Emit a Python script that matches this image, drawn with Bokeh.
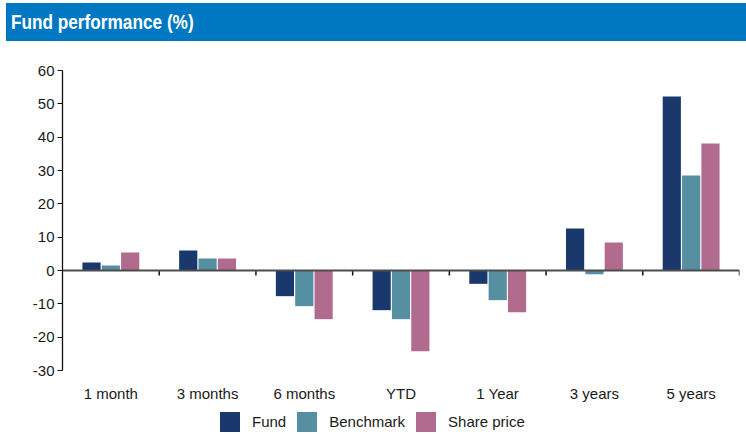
from bokeh.plotting import figure
from bokeh.models import (FactorRange, Span, Legend, LegendItem, Div,
                          FixedTicker, Range1d, ColumnDataSource)
from bokeh.transform import dodge
from bokeh.layouts import column
from bokeh.embed import file_html
from bokeh.resources import INLINE
from bokeh.core.properties import value

# ---- data ----
title_text = "Fund performance (%)"
categories = ["1 month", "3 months", "6 months", "YTD", "1 Year", "3 years", "5 years"]
fund = [2.4, 6.0, -7.7, -11.9, -4.0, 12.6, 52.2]
benchmark = [1.5, 3.6, -10.7, -14.6, -8.9, -1.1, 28.5]
share_price = [5.4, 3.6, -14.6, -24.2, -12.5, 8.4, 38.1]
series_names = ["Fund", "Benchmark", "Share price"]
y_ticks = [-30, -20, -10, 0, 10, 20, 30, 40, 50, 60]

colors = ["#1A386C", "#568EA2", "#B06B8E"]
FONT = "Liberation Sans"
TEXT_COLOR = "#1A1A1A"

W = 746
TITLE_H = 41
FIG_H = 434 - TITLE_H
TOP = 29                 # border above the y axis top
AXIS_PX = 300            # pixel height of the -30..60 axis
Y_MIN, Y_MAX = y_ticks[0], y_ticks[-1]
px_per_unit = AXIS_PX / (Y_MAX - Y_MIN)
frame_h = FIG_H - TOP
y_start = Y_MAX - frame_h / px_per_unit   # frame extends below the axis for labels/legend
label_y = Y_MIN - 23 / px_per_unit         # category label baseline, below axis end

# ---- title bar ----
title_html = (
    '<div style="margin:3px 0 0 6px;width:740px;height:38px;background:#0078C1;'
    'overflow:hidden;white-space:nowrap;">'
    '<span style="display:inline-block;transform:scaleX(0.82);transform-origin:0 50%;'
    'color:#ffffff;font-family:\'Liberation Sans\',Arial,sans-serif;font-weight:bold;'
    'font-size:21px;line-height:38px;padding-left:6px;">'
    + title_text + '</span></div>'
)
title_div = Div(text=title_html, width=W, height=TITLE_H, margin=0)

# ---- main chart ----
src = ColumnDataSource(dict(cat=categories, fund=fund, bench=benchmark, share=share_price,
                            ly=[label_y] * len(categories)))

p = figure(width=W, height=FIG_H, x_range=FactorRange(*categories, range_padding=0),
           y_range=Range1d(y_start, Y_MAX), toolbar_location=None, output_backend="svg",
           x_axis_location=None,
           min_border_left=62, min_border_right=7, min_border_top=TOP,
           min_border_bottom=0)
p.grid.visible = False
p.outline_line_color = None

bw = 0.188
off = 0.2
r1 = p.vbar(x=dodge("cat", -off, range=p.x_range), top="fund", width=bw, source=src,
            fill_color=colors[0], line_color=None)
r2 = p.vbar(x=dodge("cat", 0, range=p.x_range), top="bench", width=bw, source=src,
            fill_color=colors[1], line_color=None)
r3 = p.vbar(x=dodge("cat", off, range=p.x_range), top="share", width=bw, source=src,
            fill_color=colors[2], line_color=None)

# boundary ticks on the zero line
bx = list(range(1, len(categories) + 1))
p.segment(x0=bx, x1=bx, y0=[0] * len(bx), y1=[-5 / px_per_unit] * len(bx),
          line_color="#111111", line_width=1.5)

p.add_layout(Span(location=0, dimension="width", line_color="#4D4D4D", line_width=2))

# category labels
p.text(x="cat", y="ly", text="cat", source=src, text_align="center",
       text_baseline="alphabetic", text_font=value(FONT), text_font_size="15px",
       text_color=TEXT_COLOR)

# y axis
ya = p.yaxis[0]
ya.bounds = (Y_MIN, Y_MAX)
ya.ticker = FixedTicker(ticks=y_ticks)
ya.major_label_overrides = {t: str(t) for t in y_ticks}
ya.axis_line_color = "#111111"
ya.axis_line_width = 1.3
ya.major_tick_line_color = "#111111"
ya.major_tick_out = 5
ya.major_tick_in = 0
ya.minor_tick_line_color = None
ya.major_label_standoff = 3
ya.major_label_text_font = FONT
ya.major_label_text_font_size = "15px"
ya.major_label_text_color = TEXT_COLOR

legend = Legend(items=[LegendItem(label=series_names[0], renderers=[r1]),
                       LegendItem(label=series_names[1], renderers=[r2]),
                       LegendItem(label=series_names[2], renderers=[r3])],
                location=(155, 0), orientation="horizontal",
                border_line_color=None, background_fill_alpha=0,
                padding=0, margin=0, spacing=8,
                glyph_width=25, glyph_height=25, label_height=25,
                label_standoff=10, label_text_font=FONT,
                label_text_font_size="15px", label_text_color=TEXT_COLOR)
p.add_layout(legend)

layout = column(title_div, p, spacing=0)

open("out.html", "w").write(file_html(layout, INLINE))
